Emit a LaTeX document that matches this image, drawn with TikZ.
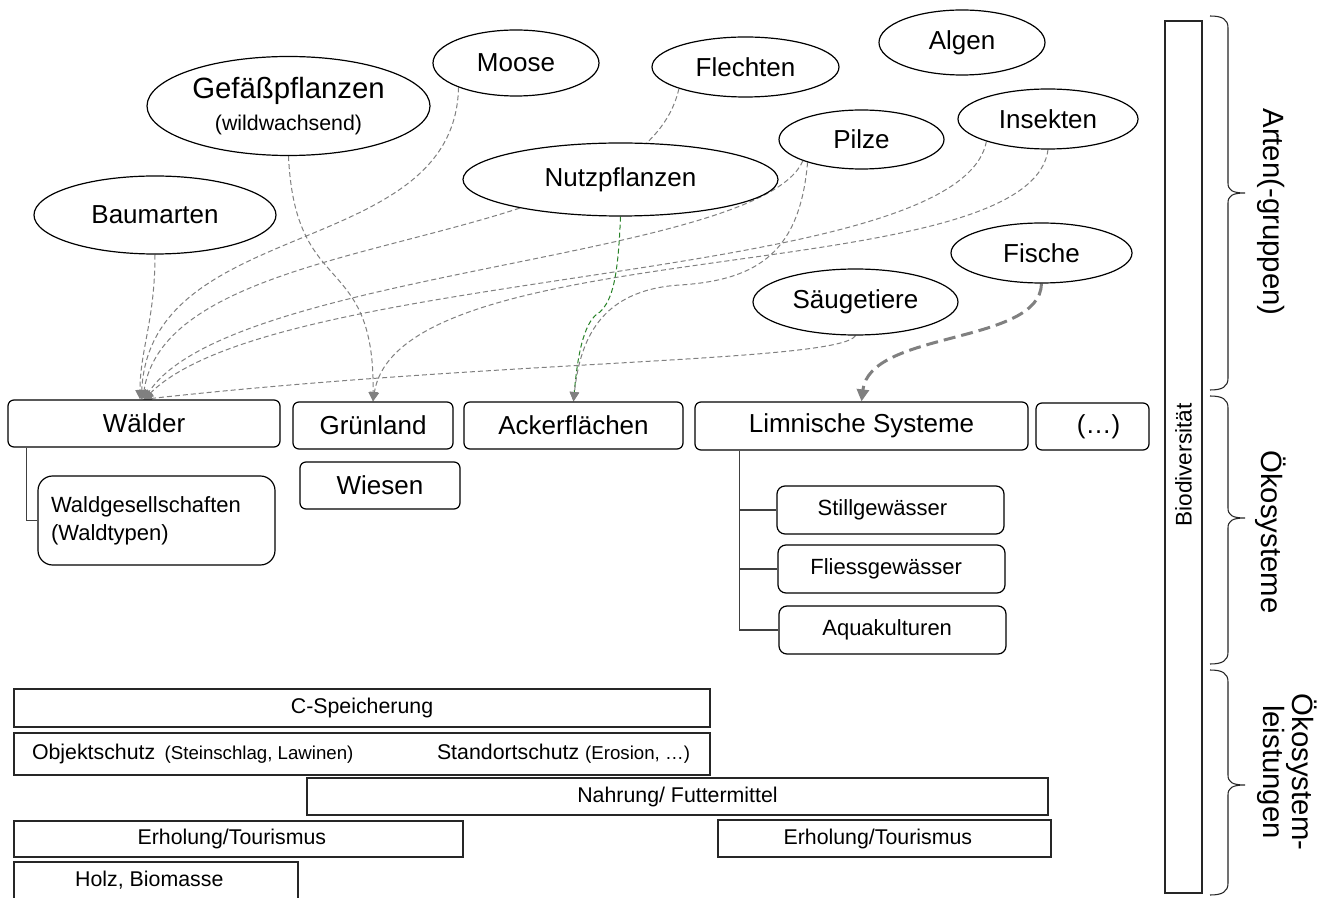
\documentclass[tikz,border=0pt]{standalone}
\usepackage{fontspec}
\setmainfont{Liberation Sans}
\usetikzlibrary{shapes.geometric,arrows.meta,backgrounds}
\definecolor{ngreen}{RGB}{40,130,40}
\newcommand{\mybrace}[3]{\draw[line width=0.8pt, black!85] (1210,#1) .. controls (1222,#1) and (1228,#1+3) .. (1228,#1+12) -- (1228,#2-10) .. controls (1228,#2-3) and (1232,#2) .. (1245,#2) .. controls (1232,#2) and (1228,#2+3) .. (1228,#2+10) -- (1228,#3-12) .. controls (1228,#3-3) and (1222,#3) .. (1210,#3);}
\begin{document}
\begin{tikzpicture}[x=0.75pt,y=-0.75pt,
  sp/.style={ellipse, draw=black, line width=0.9pt, fill=white, inner sep=0pt, font=\fontsize{19.5}{23}\selectfont},
  eco/.style={rectangle, rounded corners=4.5pt, draw=black, line width=0.9pt, fill=white, inner sep=0pt, font=\fontsize{19.5}{23}\selectfont},
  subbox/.style={eco, rounded corners=6pt, font=\fontsize{16.5}{21}\selectfont, minimum width=170.25pt, minimum height=36pt},
  svc/.style={rectangle, draw=black!85, line width=0.8pt, fill=white, inner sep=0pt, font=\fontsize{16}{19}\selectfont},
  con/.style={draw=black!50, line width=0.75pt, dash pattern=on 3.75pt off 2.25pt, -{Triangle[length=7pt,width=7pt,color=black!50]}},
  fcon/.style={draw=black!50, line width=2.25pt, dash pattern=on 9pt off 4.5pt, -{Triangle[length=9pt,width=9pt,color=black!50]}},
  tree/.style={draw=black!75, line width=0.9pt},
  lab/.style={inner sep=0pt, font=\fontsize{22}{20}\selectfont}
]
\useasboundingbox (0,0) rectangle (1325,898);

% species groups
\node[sp, minimum width=212.25pt, minimum height=74.25pt, align=center, font=\fontsize{22}{24}\selectfont] (gef) at (288.5,106) {Gefäßpflanzen\\{\fontsize{16}{24}\selectfont (wildwachsend)}};
\node[sp, minimum width=124.5pt, minimum height=49.5pt] (moose) at (516,63) {Moose};
\node[sp, minimum width=181.5pt, minimum height=58.5pt] (baum) at (155,215) {Baumarten};
\node[sp, minimum width=236.25pt, minimum height=54.75pt] (nutz) at (620.5,179.5) {Nutzpflanzen};
\node[sp, minimum width=140.25pt, minimum height=45pt] (flech) at (745.5,67) {Flechten};
\node[sp, minimum width=124.5pt, minimum height=48.75pt] (algen) at (962,42.5) {Algen};
\node[sp, minimum width=123.75pt, minimum height=44.25pt] (pilze) at (861.5,139.5) {Pilze};
\node[sp, minimum width=135pt, minimum height=45pt] (insekt) at (1048,119) {Insekten};
\node[sp, minimum width=135.75pt, minimum height=45pt] (fische) at (1041.5,253) {Fische};
\node[sp, minimum width=153.75pt, minimum height=49.5pt] (saeuge) at (855.5,302) {Säugetiere};

% ecosystems
\node[eco, minimum width=204pt, minimum height=35.25pt] (wald) at (144,423.5) {Wälder};
\node[eco, minimum width=120pt, minimum height=35.25pt] (gruen) at (373,425.5) {Grünland};
\node[eco, minimum width=164.25pt, minimum height=35.25pt] (acker) at (573.5,425.5) {\raisebox{-3pt}{Ackerflächen}};
\node[eco, minimum width=249.75pt, minimum height=36pt] (limn) at (861.5,426) {\raisebox{-3pt}{Limnische Systeme}};
\node[eco, minimum width=84.75pt, minimum height=35.25pt] (etc) at (1092.5,426.5) {\hspace*{9pt}(…)};
\node[eco, minimum width=120pt, minimum height=35.25pt] (wiesen) at (380,485.5) {Wiesen};
\node[eco, rounded corners=11pt, minimum width=177.75pt, minimum height=66.75pt, text width=158.25pt, inner xsep=9.75pt, align=left, font=\fontsize{16.5}{21}\selectfont] (waldges) at (156.5,520.5) {Waldgesellschaften\\(Waldtypen)};
\node[subbox] (still) at (890.5,510) {Stillgewässer\hspace*{12pt}};
\node[subbox] (fliess) at (891.5,569) {Fliessgewässer\hspace*{8pt}};
\node[subbox] (aqua) at (892.5,630) {Aquakulturen\hspace*{8pt}};

% ecosystem services
\node[svc, minimum width=522pt, minimum height=28.5pt] (cspei) at (362,708) {C-Speicherung};
\node[svc, minimum width=522pt, minimum height=31.5pt] (schutz) at (362,754) {\hbox to 522pt{\hspace*{13.5pt}Objektschutz\hspace{7pt}{\fontsize{14}{17}\selectfont(Steinschlag, Lawinen)}\hfill Standortschutz {\fontsize{14}{17}\selectfont(Erosion, …)}\hspace*{15pt}}};
\node[svc, minimum width=555.75pt, minimum height=27.75pt] (nahrung) at (677.5,796.5) {Nahrung/ Futtermittel};
\node[svc, minimum width=336.75pt, minimum height=27pt] (erh1) at (238.5,839) {Erholung/Tourismus\hspace*{10pt}};
\node[svc, minimum width=249.75pt, minimum height=27.75pt] (erh2) at (884.5,838.5) {Erholung/Tourismus\hspace*{10pt}};
\node[svc, minimum width=213pt, minimum height=30pt] (holz) at (156,882) {\raisebox{5pt}{Holz, Biomasse}\hspace*{10pt}};

% biodiversity bar
\node[draw=black!85, line width=0.8pt, rotate=90, minimum width=654pt, minimum height=27.75pt, inner sep=0pt, font=\fontsize{17}{19}\selectfont] (bio) at (1183.5,457) {Biodiversität\hspace*{12pt}};

% braces and their labels
\mybrace{16}{193}{390}
\mybrace{396}{518}{664}
\mybrace{670}{785}{895}
\node[lab, rotate=-90] (arten) at (1271,212) {Arten(-gruppen)};
\node[lab, rotate=-90] (oeko) at (1271,532) {Ökosysteme};
\node[lab, rotate=-90, align=center] (leist) at (1287,772) {Ökosystem-\\leistungen};

% trees
\draw[tree] ([xshift=14.25pt]wald.south west) coordinate (wt) |- (waldges.west);
\coordinate (lt) at ([xshift=33.75pt]limn.south west);
\draw[tree] (lt) |- (aqua.west);
\draw[tree] (lt |- still.west) -- (still.west);
\draw[tree] (lt |- fliess.west) -- (fliess.west);

\begin{pgfonlayer}{background}
\fill[white] (0,0) rectangle (1325,898);
\draw[con] (baum.south) .. controls (155,320) and (140,350) .. ([xshift=-3pt]wald.north);
\draw[con] (moose.203) .. controls (455,260) and (150,215) .. ([xshift=-2pt]wald.north);
\draw[con] (flech.198) .. controls (640,260) and (170,220) .. ([xshift=-1pt]wald.north);
\draw[con] (pilze.200) .. controls (760,260) and (230,270) .. (wald.north);
\draw[con] (insekt.200) .. controls (960,285) and (280,265) .. (wald.north);
\draw[con] (saeuge.south) .. controls (840,362) and (500,360) .. ([xshift=-1pt]wald.north);
\draw[con] (gef.south) .. controls (295,300) and (375,250) .. (gruen.north);
\draw[con] (insekt.south) .. controls (1030,290) and (400,230) .. (gruen.north);
\draw[con, draw=ngreen] (nutz.south) .. controls (618,280) and (612,300) .. (600,312) .. controls (585,320) and (578,350) .. (acker.north);
\draw[con] (pilze.203) .. controls (800,250) and (760,280) .. (680,285) .. controls (600,290) and (580,340) .. (acker.north);
\draw[fcon] (fische.south) .. controls (1040,345) and (870,330) .. (limn.north);
\end{pgfonlayer}
\end{tikzpicture}
\end{document}
